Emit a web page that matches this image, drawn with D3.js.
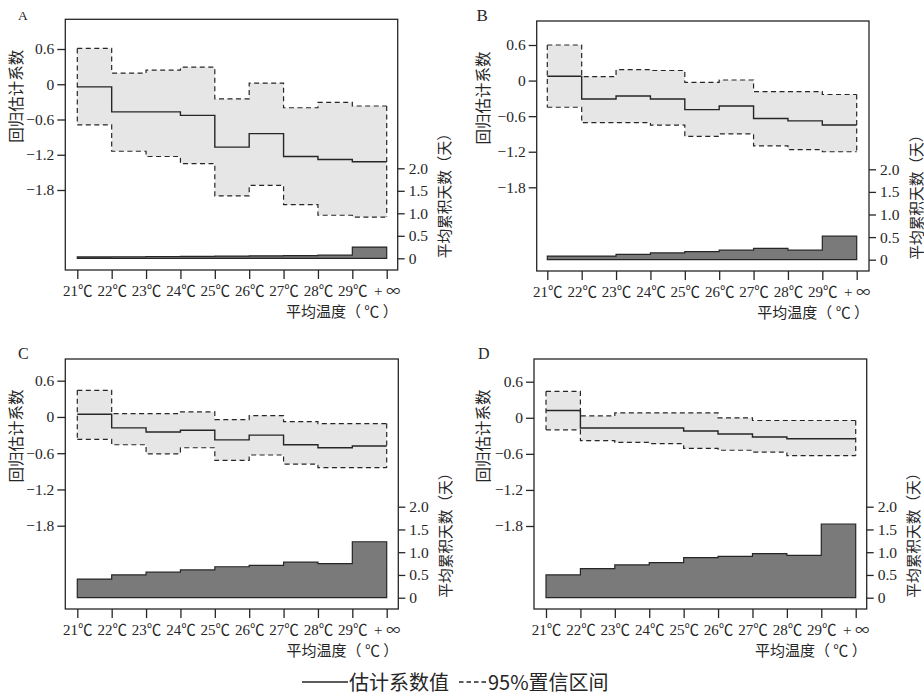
<!DOCTYPE html>
<html>
<head>
<meta charset="utf-8">
<script src="https://cdnjs.cloudflare.com/ajax/libs/d3/7.8.5/d3.min.js"></script>
<style>
  html, body { margin: 0; padding: 0; background: #fff; }
  svg { display: block; }
</style>
</head>
<body>
<svg id="chart" width="924" height="697"></svg>
<script>
// ---------- data ----------
const tempLabels = ["21℃", "22℃", "23℃", "24℃", "25℃", "26℃", "27℃", "28℃", "29℃", "+∞"];
const coefTicks = [0.6, 0, -0.6, -1.2, -1.8];
const coefTickLabels = ["0.6", "0", "−0.6", "−1.2", "−1.8"];
const dayTicks = [0, 0.5, 1.0, 1.5, 2.0];
const dayTickLabels = ["0", "0.5", "1.0", "1.5", "2.0"];

// Panel A
const coefA  = [-0.045, -0.47, -0.47, -0.53, -1.07, -0.84, -1.23, -1.28, -1.32];
const upperA = [0.61, 0.19, 0.24, 0.29, -0.25, 0.02, -0.40, -0.31, -0.37];
const lowerA = [-0.69, -1.14, -1.23, -1.35, -1.90, -1.72, -2.05, -2.23, -2.26];
const daysA  = [0.03, 0.035, 0.04, 0.045, 0.05, 0.055, 0.06, 0.07, 0.25];
// Panel B
const coefB  = [0.073, -0.31, -0.26, -0.31, -0.49, -0.43, -0.64, -0.68, -0.75];
const upperB = [0.60, 0.067, 0.185, 0.17, -0.03, 0.01, -0.185, -0.185, -0.235];
const lowerB = [-0.45, -0.71, -0.71, -0.75, -0.94, -0.90, -1.10, -1.165, -1.20];
const daysB  = [0.08, 0.08, 0.12, 0.15, 0.18, 0.21, 0.25, 0.21, 0.52];
// Panel C
const coefC  = [0.044, -0.18, -0.25, -0.22, -0.38, -0.30, -0.46, -0.51, -0.48];
const upperC = [0.44, 0.056, 0.056, 0.083, -0.044, 0.022, -0.078, -0.11, -0.11];
const lowerC = [-0.37, -0.46, -0.61, -0.51, -0.72, -0.63, -0.78, -0.84, -0.84];
const daysC  = [0.41, 0.50, 0.56, 0.61, 0.68, 0.71, 0.78, 0.75, 1.23];
// Panel D
const coefD  = [0.12, -0.17, -0.17, -0.17, -0.22, -0.27, -0.32, -0.35, -0.35];
const upperD = [0.44, 0.03, 0.08, 0.08, 0.08, 0.0, -0.045, -0.045, -0.045];
const lowerD = [-0.20, -0.38, -0.41, -0.43, -0.51, -0.54, -0.57, -0.63, -0.63];
const daysD  = [0.50, 0.64, 0.72, 0.77, 0.88, 0.91, 0.97, 0.93, 1.62];

const xTitle = "平均温度（ ℃ ）";
const yLeftTitle = "回归估计系数";
const yRightTitle = "平均累积天数（天）";
const legendLine = "估计系数值";
const legendDash = "95%置信区间";

// ---------- layout ----------
const panels = [
  { key: "A", coef: coefA, upper: upperA, lower: lowerA, days: daysA,
    frame: [65.3, 19.3, 397.7, 270], xr: [77.3, 386.7], yl: [49, 190], yr: [258.3, 168.3],
    letter: [18, 20], letterSize: 13.5, ltX: 15 },
  { key: "B", coef: coefB, upper: upperB, lower: lowerB, days: daysB,
    frame: [536.7, 21, 869, 271], xr: [547.3, 856.7], yl: [45, 187.3], yr: [259.7, 169.3],
    letter: [476.5, 21], letterSize: 17, ltX: 482 },
  { key: "C", coef: coefC, upper: upperC, lower: lowerC, days: daysC,
    frame: [65.3, 359, 398.3, 609], xr: [77.3, 386.7], yl: [380.7, 525.7], yr: [597.7, 506.7],
    letter: [18, 358.5], letterSize: 16, ltX: 15 },
  { key: "D", coef: coefD, upper: upperD, lower: lowerD, days: daysD,
    frame: [534, 359, 866.7, 609], xr: [546, 855.7], yl: [381.7, 526], yr: [597.7, 506.7],
    letter: [478, 358.5], letterSize: 16, ltX: 482 }
];

const serif = "'Liberation Serif', 'Times New Roman', serif";
const cjk = "'Noto Sans CJK SC', 'Noto Sans', sans-serif";
const ink = "#262626";

const svg = d3.select("#chart");

panels.forEach(p => {
  const [fx0, fy0, fx1, fy1] = p.frame;
  const g = svg.append("g");
  const x = d3.scaleLinear().domain([0, tempLabels.length - 1]).range(p.xr);
  const yL = d3.scaleLinear().domain([0.6, -1.8]).range(p.yl);
  const yR = d3.scaleLinear().domain([0, 2]).range(p.yr);

  const ext = arr => arr.concat([arr[arr.length - 1]]);
  const idx = d3.range(tempLabels.length);

  // CI band
  const up = ext(p.upper), lo = ext(p.lower), cf = ext(p.coef), dy = ext(p.days);
  const band = d3.area().curve(d3.curveStepAfter)
    .x(i => x(i)).y0(i => yL(lo[i])).y1(i => yL(up[i]));
  g.append("path").attr("d", band(idx)).attr("fill", "#e6e6e6").attr("stroke", "none");

  // dashed CI outline (closed)
  const stepLine = (vals, sc) => d3.line().curve(d3.curveStepAfter).x(i => x(i)).y(i => sc(vals[i]));
  g.append("path").attr("d", stepLine(up, yL)(idx)).attr("fill", "none")
    .attr("stroke", ink).attr("stroke-width", 1.2).attr("stroke-dasharray", "5,3.5");
  g.append("path").attr("d", stepLine(lo, yL)(idx)).attr("fill", "none")
    .attr("stroke", ink).attr("stroke-width", 1.2).attr("stroke-dasharray", "5,3.5");
  [0, tempLabels.length - 1].forEach(i => {
    g.append("line").attr("x1", x(i)).attr("x2", x(i))
      .attr("y1", yL(up[i])).attr("y2", yL(lo[i]))
      .attr("stroke", ink).attr("stroke-width", 1.2).attr("stroke-dasharray", "5,3.5");
  });

  // estimate line
  g.append("path").attr("d", stepLine(cf, yL)(idx)).attr("fill", "none")
    .attr("stroke", ink).attr("stroke-width", 1.4);

  // days area
  const dArea = d3.area().curve(d3.curveStepAfter)
    .x(i => x(i)).y0(() => yR(0)).y1(i => yR(dy[i]));
  g.append("path").attr("d", dArea(idx) + "Z").attr("fill", "#7a7a7a")
    .attr("stroke", ink).attr("stroke-width", 1.2).attr("stroke-linejoin", "miter");

  // frame
  g.append("rect").attr("x", fx0).attr("y", fy0).attr("width", fx1 - fx0).attr("height", fy1 - fy0)
    .attr("fill", "none").attr("stroke", ink).attr("stroke-width", 1.3);

  // left axis
  const leftAxis = d3.axisLeft(yL).tickValues(coefTicks)
    .tickFormat((d, i) => coefTickLabels[i]).tickSize(8).tickPadding(3);
  const la = g.append("g").attr("transform", `translate(${fx0},0)`).call(leftAxis);
  la.select(".domain").remove();
  la.selectAll("line").attr("stroke", ink).attr("stroke-width", 1.3);
  la.selectAll("text").attr("font-family", serif).attr("font-size", 15.5).attr("fill", ink);

  // right axis
  const rightAxis = d3.axisRight(yR).tickValues(dayTicks)
    .tickFormat((d, i) => dayTickLabels[i]).tickSize(7).tickPadding(4);
  const ra = g.append("g").attr("transform", `translate(${fx1},0)`).call(rightAxis);
  ra.select(".domain").remove();
  ra.selectAll("line").attr("stroke", ink).attr("stroke-width", 1.3);
  ra.selectAll("text").attr("font-family", serif).attr("font-size", 15.5).attr("fill", ink);

  // bottom axis
  const bottomAxis = d3.axisBottom(x).tickValues(idx)
    .tickFormat(i => tempLabels[i]).tickSize(9).tickPadding(6);
  const ba = g.append("g").attr("transform", `translate(0,${fy1})`).call(bottomAxis);
  ba.select(".domain").remove();
  ba.selectAll("line").attr("stroke", ink).attr("stroke-width", 1.3);
  ba.selectAll("text").each(function(i) {
    const t = d3.select(this);
    const label = tempLabels[i];
    const head = label.slice(0, -1), sym = label.slice(-1);
    t.text(null).attr("fill", ink).attr("font-size", 15);
    t.append("tspan").attr("font-family", serif).text(head + (sym === "∞" ? " " : ""));
    t.append("tspan").attr("font-family", cjk)
      .attr("font-size", sym === "∞" ? 14 : 14.5).text(sym);
  });

  // x title
  g.append("text").attr("x", fx1).attr("y", fy1 + 47).attr("text-anchor", "end")
    .attr("font-family", cjk).attr("font-size", 15).attr("fill", ink).text(xTitle);

  // left title
  g.append("text").attr("transform", `translate(${p.ltX},${fy0 + 77}) rotate(-90)`)
    .attr("text-anchor", "middle").attr("dominant-baseline", "central")
    .attr("font-family", cjk).attr("font-size", 15.5).attr("fill", ink).text(yLeftTitle);

  // right title
  g.append("text").attr("transform", `translate(${fx1 + 46},${yR(0)}) rotate(-90)`)
    .attr("text-anchor", "start").attr("dominant-baseline", "central")
    .attr("font-family", cjk).attr("font-size", 14.7).attr("fill", ink).text(yRightTitle);

  // panel letter
  g.append("text").attr("x", p.letter[0]).attr("y", p.letter[1])
    .attr("font-family", serif).attr("font-size", p.letterSize).attr("fill", ink).text(p.key);
});

// ---------- legend ----------
const lg = svg.append("g");
lg.append("line").attr("x1", 302).attr("x2", 348).attr("y1", 682).attr("y2", 682)
  .attr("stroke", ink).attr("stroke-width", 1.4);
lg.append("text").attr("x", 349).attr("y", 690).attr("font-family", cjk)
  .attr("font-size", 20).attr("fill", ink).text(legendLine);
lg.append("line").attr("x1", 459).attr("x2", 487).attr("y1", 682).attr("y2", 682)
  .attr("stroke", ink).attr("stroke-width", 1.4).attr("stroke-dasharray", "4.5,3");
lg.append("text").attr("x", 488).attr("y", 690).attr("font-family", cjk)
  .attr("font-size", 20).attr("fill", ink).text(legendDash);
</script>
</body>
</html>
